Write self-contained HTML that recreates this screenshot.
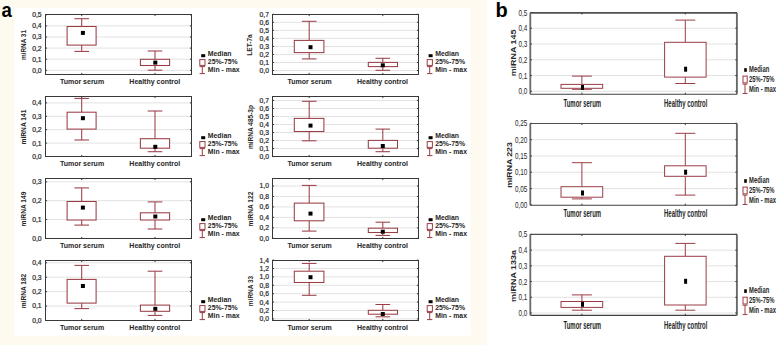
<!DOCTYPE html>
<html><head><meta charset="utf-8"><style>
html,body{margin:0;padding:0;background:#fff;}
body{width:778px;height:345px;overflow:hidden;}
svg{display:block;font-family:"Liberation Sans", sans-serif;position:absolute;left:0;top:0;}
#w{position:relative;width:778px;height:345px;overflow:hidden;font-family:"Liberation Sans", sans-serif;}
.yl{position:absolute;white-space:nowrap;font-weight:bold;line-height:1;color:#262626;}
</style></head><body>
<div id="w">
<svg width="778" height="345" viewBox="0 0 778 345">
<rect x="0" y="0" width="487" height="345" fill="#fefaf0"/>
<rect x="14.4" y="8" width="456.2" height="327.6" fill="#fff"/>
<rect x="487" y="0" width="291" height="345" fill="#fff"/>
<text x="0" y="0" transform="translate(1.6 16.7) scale(0.93 1)" font-size="20" font-weight="bold" fill="#000">a</text>
<text x="495.6" y="16.5" font-size="20" font-weight="bold" fill="#000">b</text>
<line x1="45.5" y1="70.30" x2="191.5" y2="70.30" stroke="#e2e2e2" stroke-width="1"/>
<line x1="45.5" y1="59.20" x2="191.5" y2="59.20" stroke="#e2e2e2" stroke-width="1"/>
<line x1="45.5" y1="48.10" x2="191.5" y2="48.10" stroke="#e2e2e2" stroke-width="1"/>
<line x1="45.5" y1="37.00" x2="191.5" y2="37.00" stroke="#e2e2e2" stroke-width="1"/>
<line x1="45.5" y1="25.90" x2="191.5" y2="25.90" stroke="#e2e2e2" stroke-width="1"/>
<rect x="45.5" y="14.5" width="146.0" height="60.0" fill="none" stroke="#383838" stroke-width="1"/>
<line x1="45.5" y1="70.30" x2="47.1" y2="70.30" stroke="#383838" stroke-width="1"/>
<line x1="189.9" y1="70.30" x2="191.5" y2="70.30" stroke="#383838" stroke-width="1"/>
<line x1="45.5" y1="59.20" x2="47.1" y2="59.20" stroke="#383838" stroke-width="1"/>
<line x1="189.9" y1="59.20" x2="191.5" y2="59.20" stroke="#383838" stroke-width="1"/>
<line x1="45.5" y1="48.10" x2="47.1" y2="48.10" stroke="#383838" stroke-width="1"/>
<line x1="189.9" y1="48.10" x2="191.5" y2="48.10" stroke="#383838" stroke-width="1"/>
<line x1="45.5" y1="37.00" x2="47.1" y2="37.00" stroke="#383838" stroke-width="1"/>
<line x1="189.9" y1="37.00" x2="191.5" y2="37.00" stroke="#383838" stroke-width="1"/>
<line x1="45.5" y1="25.90" x2="47.1" y2="25.90" stroke="#383838" stroke-width="1"/>
<line x1="189.9" y1="25.90" x2="191.5" y2="25.90" stroke="#383838" stroke-width="1"/>
<line x1="45.5" y1="14.80" x2="47.1" y2="14.80" stroke="#383838" stroke-width="1"/>
<line x1="189.9" y1="14.80" x2="191.5" y2="14.80" stroke="#383838" stroke-width="1"/>
<line x1="81.7" y1="14.5" x2="81.7" y2="16.1" stroke="#383838" stroke-width="1"/>
<line x1="81.7" y1="72.9" x2="81.7" y2="74.5" stroke="#383838" stroke-width="1"/>
<line x1="155.0" y1="14.5" x2="155.0" y2="16.1" stroke="#383838" stroke-width="1"/>
<line x1="155.0" y1="72.9" x2="155.0" y2="74.5" stroke="#383838" stroke-width="1"/>
<text x="0" y="0" transform="translate(41.6 72.70) scale(1 1)" text-anchor="end" font-size="6.8" fill="#262626" stroke="#262626" stroke-width="0.2">0,0</text>
<text x="0" y="0" transform="translate(41.6 61.60) scale(1 1)" text-anchor="end" font-size="6.8" fill="#262626" stroke="#262626" stroke-width="0.2">0,1</text>
<text x="0" y="0" transform="translate(41.6 50.50) scale(1 1)" text-anchor="end" font-size="6.8" fill="#262626" stroke="#262626" stroke-width="0.2">0,2</text>
<text x="0" y="0" transform="translate(41.6 39.40) scale(1 1)" text-anchor="end" font-size="6.8" fill="#262626" stroke="#262626" stroke-width="0.2">0,3</text>
<text x="0" y="0" transform="translate(41.6 28.30) scale(1 1)" text-anchor="end" font-size="6.8" fill="#262626" stroke="#262626" stroke-width="0.2">0,4</text>
<text x="0" y="0" transform="translate(41.6 17.20) scale(1 1)" text-anchor="end" font-size="6.8" fill="#262626" stroke="#262626" stroke-width="0.2">0,5</text>
<line x1="81.7" y1="18.7" x2="81.7" y2="26.5" stroke="#9a3d46" stroke-width="1.05"/>
<line x1="81.7" y1="45.1" x2="81.7" y2="51.4" stroke="#9a3d46" stroke-width="1.05"/>
<line x1="74.4" y1="18.7" x2="89.0" y2="18.7" stroke="#9a3d46" stroke-width="1.05"/>
<line x1="74.4" y1="51.4" x2="89.0" y2="51.4" stroke="#9a3d46" stroke-width="1.05"/>
<rect x="67.1" y="26.5" width="29.0" height="18.6" fill="#fff" stroke="#9a3d46" stroke-width="1.05"/>
<rect x="80.90" y="30.90" width="4" height="4" fill="#000"/>
<line x1="155.0" y1="51.0" x2="155.0" y2="59.3" stroke="#9a3d46" stroke-width="1.05"/>
<line x1="155.0" y1="65.5" x2="155.0" y2="70.2" stroke="#9a3d46" stroke-width="1.05"/>
<line x1="147.7" y1="51.0" x2="162.3" y2="51.0" stroke="#9a3d46" stroke-width="1.05"/>
<line x1="147.7" y1="70.2" x2="162.3" y2="70.2" stroke="#9a3d46" stroke-width="1.05"/>
<rect x="140.4" y="59.3" width="29.19999999999999" height="6.200000000000003" fill="#fff" stroke="#9a3d46" stroke-width="1.05"/>
<rect x="153.30" y="60.60" width="4" height="4" fill="#000"/>
<text x="0" y="0" transform="translate(82.0 83.7) scale(1 1)" text-anchor="middle" font-size="7" font-weight="bold" fill="#262626">Tumor serum</text>
<text x="0" y="0" transform="translate(154.8 83.7) scale(1 1)" text-anchor="middle" font-size="7" font-weight="bold" fill="#262626">Healthy control</text>
<rect x="201.20" y="54.20" width="4" height="3" fill="#000"/>
<rect x="199.8" y="59.60" width="5.2" height="5.8" fill="#fff" stroke="#9a3d46" stroke-width="1"/>
<line x1="202.3" y1="66.60" x2="202.3" y2="73.60" stroke="#9a3d46" stroke-width="1"/>
<line x1="199.60000000000002" y1="66.60" x2="205.0" y2="66.60" stroke="#9a3d46" stroke-width="1"/>
<line x1="199.60000000000002" y1="73.60" x2="205.0" y2="73.60" stroke="#9a3d46" stroke-width="1"/>
<text x="0" y="0" transform="translate(207.8 56.00) scale(1 1)" font-size="6.9" font-weight="bold" fill="#262626">Median</text>
<text x="0" y="0" transform="translate(207.8 64.00) scale(1 1)" font-size="6.9" font-weight="bold" fill="#262626">25%-75%</text>
<text x="0" y="0" transform="translate(207.8 72.00) scale(1 1)" font-size="6.9" font-weight="bold" fill="#262626">Min - max</text>
<line x1="272.5" y1="70.50" x2="418.5" y2="70.50" stroke="#e2e2e2" stroke-width="1"/>
<line x1="272.5" y1="62.47" x2="418.5" y2="62.47" stroke="#e2e2e2" stroke-width="1"/>
<line x1="272.5" y1="54.44" x2="418.5" y2="54.44" stroke="#e2e2e2" stroke-width="1"/>
<line x1="272.5" y1="46.41" x2="418.5" y2="46.41" stroke="#e2e2e2" stroke-width="1"/>
<line x1="272.5" y1="38.38" x2="418.5" y2="38.38" stroke="#e2e2e2" stroke-width="1"/>
<line x1="272.5" y1="30.35" x2="418.5" y2="30.35" stroke="#e2e2e2" stroke-width="1"/>
<line x1="272.5" y1="22.32" x2="418.5" y2="22.32" stroke="#e2e2e2" stroke-width="1"/>
<rect x="272.5" y="14.5" width="146.0" height="60.0" fill="none" stroke="#383838" stroke-width="1"/>
<line x1="272.5" y1="70.50" x2="274.1" y2="70.50" stroke="#383838" stroke-width="1"/>
<line x1="416.9" y1="70.50" x2="418.5" y2="70.50" stroke="#383838" stroke-width="1"/>
<line x1="272.5" y1="62.47" x2="274.1" y2="62.47" stroke="#383838" stroke-width="1"/>
<line x1="416.9" y1="62.47" x2="418.5" y2="62.47" stroke="#383838" stroke-width="1"/>
<line x1="272.5" y1="54.44" x2="274.1" y2="54.44" stroke="#383838" stroke-width="1"/>
<line x1="416.9" y1="54.44" x2="418.5" y2="54.44" stroke="#383838" stroke-width="1"/>
<line x1="272.5" y1="46.41" x2="274.1" y2="46.41" stroke="#383838" stroke-width="1"/>
<line x1="416.9" y1="46.41" x2="418.5" y2="46.41" stroke="#383838" stroke-width="1"/>
<line x1="272.5" y1="38.38" x2="274.1" y2="38.38" stroke="#383838" stroke-width="1"/>
<line x1="416.9" y1="38.38" x2="418.5" y2="38.38" stroke="#383838" stroke-width="1"/>
<line x1="272.5" y1="30.35" x2="274.1" y2="30.35" stroke="#383838" stroke-width="1"/>
<line x1="416.9" y1="30.35" x2="418.5" y2="30.35" stroke="#383838" stroke-width="1"/>
<line x1="272.5" y1="22.32" x2="274.1" y2="22.32" stroke="#383838" stroke-width="1"/>
<line x1="416.9" y1="22.32" x2="418.5" y2="22.32" stroke="#383838" stroke-width="1"/>
<line x1="272.5" y1="14.29" x2="274.1" y2="14.29" stroke="#383838" stroke-width="1"/>
<line x1="416.9" y1="14.29" x2="418.5" y2="14.29" stroke="#383838" stroke-width="1"/>
<line x1="309.2" y1="14.5" x2="309.2" y2="16.1" stroke="#383838" stroke-width="1"/>
<line x1="309.2" y1="72.9" x2="309.2" y2="74.5" stroke="#383838" stroke-width="1"/>
<line x1="382.8" y1="14.5" x2="382.8" y2="16.1" stroke="#383838" stroke-width="1"/>
<line x1="382.8" y1="72.9" x2="382.8" y2="74.5" stroke="#383838" stroke-width="1"/>
<text x="0" y="0" transform="translate(269.0 72.90) scale(1 1)" text-anchor="end" font-size="6.8" fill="#262626" stroke="#262626" stroke-width="0.2">0,0</text>
<text x="0" y="0" transform="translate(269.0 64.87) scale(1 1)" text-anchor="end" font-size="6.8" fill="#262626" stroke="#262626" stroke-width="0.2">0,1</text>
<text x="0" y="0" transform="translate(269.0 56.84) scale(1 1)" text-anchor="end" font-size="6.8" fill="#262626" stroke="#262626" stroke-width="0.2">0,2</text>
<text x="0" y="0" transform="translate(269.0 48.81) scale(1 1)" text-anchor="end" font-size="6.8" fill="#262626" stroke="#262626" stroke-width="0.2">0,3</text>
<text x="0" y="0" transform="translate(269.0 40.78) scale(1 1)" text-anchor="end" font-size="6.8" fill="#262626" stroke="#262626" stroke-width="0.2">0,4</text>
<text x="0" y="0" transform="translate(269.0 32.75) scale(1 1)" text-anchor="end" font-size="6.8" fill="#262626" stroke="#262626" stroke-width="0.2">0,5</text>
<text x="0" y="0" transform="translate(269.0 24.72) scale(1 1)" text-anchor="end" font-size="6.8" fill="#262626" stroke="#262626" stroke-width="0.2">0,6</text>
<text x="0" y="0" transform="translate(269.0 16.69) scale(1 1)" text-anchor="end" font-size="6.8" fill="#262626" stroke="#262626" stroke-width="0.2">0,7</text>
<line x1="309.2" y1="21.3" x2="309.2" y2="40.4" stroke="#9a3d46" stroke-width="1.05"/>
<line x1="309.2" y1="52.6" x2="309.2" y2="58.9" stroke="#9a3d46" stroke-width="1.05"/>
<line x1="301.9" y1="21.3" x2="316.5" y2="21.3" stroke="#9a3d46" stroke-width="1.05"/>
<line x1="301.9" y1="58.9" x2="316.5" y2="58.9" stroke="#9a3d46" stroke-width="1.05"/>
<rect x="294.3" y="40.4" width="29.599999999999966" height="12.200000000000003" fill="#fff" stroke="#9a3d46" stroke-width="1.05"/>
<rect x="308.50" y="45.20" width="4" height="4" fill="#000"/>
<line x1="382.8" y1="58.3" x2="382.8" y2="62.4" stroke="#9a3d46" stroke-width="1.05"/>
<line x1="382.8" y1="66.6" x2="382.8" y2="70.3" stroke="#9a3d46" stroke-width="1.05"/>
<line x1="375.5" y1="58.3" x2="390.1" y2="58.3" stroke="#9a3d46" stroke-width="1.05"/>
<line x1="375.5" y1="70.3" x2="390.1" y2="70.3" stroke="#9a3d46" stroke-width="1.05"/>
<rect x="368.3" y="62.4" width="29.19999999999999" height="4.199999999999996" fill="#fff" stroke="#9a3d46" stroke-width="1.05"/>
<rect x="380.80" y="63.30" width="4" height="4" fill="#000"/>
<text x="0" y="0" transform="translate(309.7 83.7) scale(1 1)" text-anchor="middle" font-size="7" font-weight="bold" fill="#262626">Tumor serum</text>
<text x="0" y="0" transform="translate(382.4 83.7) scale(1 1)" text-anchor="middle" font-size="7" font-weight="bold" fill="#262626">Healthy control</text>
<rect x="428.60" y="54.20" width="4" height="3" fill="#000"/>
<rect x="427.2" y="59.60" width="5.2" height="5.8" fill="#fff" stroke="#9a3d46" stroke-width="1"/>
<line x1="429.7" y1="66.60" x2="429.7" y2="73.60" stroke="#9a3d46" stroke-width="1"/>
<line x1="427.0" y1="66.60" x2="432.4" y2="66.60" stroke="#9a3d46" stroke-width="1"/>
<line x1="427.0" y1="73.60" x2="432.4" y2="73.60" stroke="#9a3d46" stroke-width="1"/>
<text x="0" y="0" transform="translate(435.2 56.00) scale(1 1)" font-size="6.9" font-weight="bold" fill="#262626">Median</text>
<text x="0" y="0" transform="translate(435.2 64.00) scale(1 1)" font-size="6.9" font-weight="bold" fill="#262626">25%-75%</text>
<text x="0" y="0" transform="translate(435.2 72.00) scale(1 1)" font-size="6.9" font-weight="bold" fill="#262626">Min - max</text>
<line x1="45.5" y1="143.10" x2="191.5" y2="143.10" stroke="#e2e2e2" stroke-width="1"/>
<line x1="45.5" y1="129.70" x2="191.5" y2="129.70" stroke="#e2e2e2" stroke-width="1"/>
<line x1="45.5" y1="116.30" x2="191.5" y2="116.30" stroke="#e2e2e2" stroke-width="1"/>
<line x1="45.5" y1="102.90" x2="191.5" y2="102.90" stroke="#e2e2e2" stroke-width="1"/>
<rect x="45.5" y="96.5" width="146.0" height="60.0" fill="none" stroke="#383838" stroke-width="1"/>
<line x1="45.5" y1="156.50" x2="47.1" y2="156.50" stroke="#383838" stroke-width="1"/>
<line x1="189.9" y1="156.50" x2="191.5" y2="156.50" stroke="#383838" stroke-width="1"/>
<line x1="45.5" y1="143.10" x2="47.1" y2="143.10" stroke="#383838" stroke-width="1"/>
<line x1="189.9" y1="143.10" x2="191.5" y2="143.10" stroke="#383838" stroke-width="1"/>
<line x1="45.5" y1="129.70" x2="47.1" y2="129.70" stroke="#383838" stroke-width="1"/>
<line x1="189.9" y1="129.70" x2="191.5" y2="129.70" stroke="#383838" stroke-width="1"/>
<line x1="45.5" y1="116.30" x2="47.1" y2="116.30" stroke="#383838" stroke-width="1"/>
<line x1="189.9" y1="116.30" x2="191.5" y2="116.30" stroke="#383838" stroke-width="1"/>
<line x1="45.5" y1="102.90" x2="47.1" y2="102.90" stroke="#383838" stroke-width="1"/>
<line x1="189.9" y1="102.90" x2="191.5" y2="102.90" stroke="#383838" stroke-width="1"/>
<line x1="81.7" y1="96.5" x2="81.7" y2="98.1" stroke="#383838" stroke-width="1"/>
<line x1="81.7" y1="154.9" x2="81.7" y2="156.5" stroke="#383838" stroke-width="1"/>
<line x1="155.0" y1="96.5" x2="155.0" y2="98.1" stroke="#383838" stroke-width="1"/>
<line x1="155.0" y1="154.9" x2="155.0" y2="156.5" stroke="#383838" stroke-width="1"/>
<text x="0" y="0" transform="translate(41.6 158.90) scale(1 1)" text-anchor="end" font-size="6.8" fill="#262626" stroke="#262626" stroke-width="0.2">0,0</text>
<text x="0" y="0" transform="translate(41.6 145.50) scale(1 1)" text-anchor="end" font-size="6.8" fill="#262626" stroke="#262626" stroke-width="0.2">0,1</text>
<text x="0" y="0" transform="translate(41.6 132.10) scale(1 1)" text-anchor="end" font-size="6.8" fill="#262626" stroke="#262626" stroke-width="0.2">0,2</text>
<text x="0" y="0" transform="translate(41.6 118.70) scale(1 1)" text-anchor="end" font-size="6.8" fill="#262626" stroke="#262626" stroke-width="0.2">0,3</text>
<text x="0" y="0" transform="translate(41.6 105.30) scale(1 1)" text-anchor="end" font-size="6.8" fill="#262626" stroke="#262626" stroke-width="0.2">0,4</text>
<line x1="81.7" y1="98.4" x2="81.7" y2="112.2" stroke="#9a3d46" stroke-width="1.05"/>
<line x1="81.7" y1="129.1" x2="81.7" y2="140.0" stroke="#9a3d46" stroke-width="1.05"/>
<line x1="74.4" y1="98.4" x2="89.0" y2="98.4" stroke="#9a3d46" stroke-width="1.05"/>
<line x1="74.4" y1="140.0" x2="89.0" y2="140.0" stroke="#9a3d46" stroke-width="1.05"/>
<rect x="67.1" y="112.2" width="29.0" height="16.89999999999999" fill="#fff" stroke="#9a3d46" stroke-width="1.05"/>
<rect x="80.90" y="116.20" width="4" height="4" fill="#000"/>
<line x1="155.0" y1="111.0" x2="155.0" y2="138.7" stroke="#9a3d46" stroke-width="1.05"/>
<line x1="155.0" y1="148.2" x2="155.0" y2="151.7" stroke="#9a3d46" stroke-width="1.05"/>
<line x1="147.7" y1="111.0" x2="162.3" y2="111.0" stroke="#9a3d46" stroke-width="1.05"/>
<line x1="147.7" y1="151.7" x2="162.3" y2="151.7" stroke="#9a3d46" stroke-width="1.05"/>
<rect x="140.4" y="138.7" width="29.19999999999999" height="9.5" fill="#fff" stroke="#9a3d46" stroke-width="1.05"/>
<rect x="153.30" y="144.80" width="4" height="4" fill="#000"/>
<text x="0" y="0" transform="translate(82.0 165.7) scale(1 1)" text-anchor="middle" font-size="7" font-weight="bold" fill="#262626">Tumor serum</text>
<text x="0" y="0" transform="translate(154.8 165.7) scale(1 1)" text-anchor="middle" font-size="7" font-weight="bold" fill="#262626">Healthy control</text>
<rect x="201.20" y="136.20" width="4" height="3" fill="#000"/>
<rect x="199.8" y="141.60" width="5.2" height="5.8" fill="#fff" stroke="#9a3d46" stroke-width="1"/>
<line x1="202.3" y1="148.60" x2="202.3" y2="155.60" stroke="#9a3d46" stroke-width="1"/>
<line x1="199.60000000000002" y1="148.60" x2="205.0" y2="148.60" stroke="#9a3d46" stroke-width="1"/>
<line x1="199.60000000000002" y1="155.60" x2="205.0" y2="155.60" stroke="#9a3d46" stroke-width="1"/>
<text x="0" y="0" transform="translate(207.8 138.00) scale(1 1)" font-size="6.9" font-weight="bold" fill="#262626">Median</text>
<text x="0" y="0" transform="translate(207.8 146.00) scale(1 1)" font-size="6.9" font-weight="bold" fill="#262626">25%-75%</text>
<text x="0" y="0" transform="translate(207.8 154.00) scale(1 1)" font-size="6.9" font-weight="bold" fill="#262626">Min - max</text>
<line x1="272.5" y1="148.58" x2="418.5" y2="148.58" stroke="#e2e2e2" stroke-width="1"/>
<line x1="272.5" y1="140.56" x2="418.5" y2="140.56" stroke="#e2e2e2" stroke-width="1"/>
<line x1="272.5" y1="132.54" x2="418.5" y2="132.54" stroke="#e2e2e2" stroke-width="1"/>
<line x1="272.5" y1="124.52" x2="418.5" y2="124.52" stroke="#e2e2e2" stroke-width="1"/>
<line x1="272.5" y1="116.50" x2="418.5" y2="116.50" stroke="#e2e2e2" stroke-width="1"/>
<line x1="272.5" y1="108.48" x2="418.5" y2="108.48" stroke="#e2e2e2" stroke-width="1"/>
<line x1="272.5" y1="100.46" x2="418.5" y2="100.46" stroke="#e2e2e2" stroke-width="1"/>
<rect x="272.5" y="96.5" width="146.0" height="60.0" fill="none" stroke="#383838" stroke-width="1"/>
<line x1="272.5" y1="156.60" x2="274.1" y2="156.60" stroke="#383838" stroke-width="1"/>
<line x1="416.9" y1="156.60" x2="418.5" y2="156.60" stroke="#383838" stroke-width="1"/>
<line x1="272.5" y1="148.58" x2="274.1" y2="148.58" stroke="#383838" stroke-width="1"/>
<line x1="416.9" y1="148.58" x2="418.5" y2="148.58" stroke="#383838" stroke-width="1"/>
<line x1="272.5" y1="140.56" x2="274.1" y2="140.56" stroke="#383838" stroke-width="1"/>
<line x1="416.9" y1="140.56" x2="418.5" y2="140.56" stroke="#383838" stroke-width="1"/>
<line x1="272.5" y1="132.54" x2="274.1" y2="132.54" stroke="#383838" stroke-width="1"/>
<line x1="416.9" y1="132.54" x2="418.5" y2="132.54" stroke="#383838" stroke-width="1"/>
<line x1="272.5" y1="124.52" x2="274.1" y2="124.52" stroke="#383838" stroke-width="1"/>
<line x1="416.9" y1="124.52" x2="418.5" y2="124.52" stroke="#383838" stroke-width="1"/>
<line x1="272.5" y1="116.50" x2="274.1" y2="116.50" stroke="#383838" stroke-width="1"/>
<line x1="416.9" y1="116.50" x2="418.5" y2="116.50" stroke="#383838" stroke-width="1"/>
<line x1="272.5" y1="108.48" x2="274.1" y2="108.48" stroke="#383838" stroke-width="1"/>
<line x1="416.9" y1="108.48" x2="418.5" y2="108.48" stroke="#383838" stroke-width="1"/>
<line x1="272.5" y1="100.46" x2="274.1" y2="100.46" stroke="#383838" stroke-width="1"/>
<line x1="416.9" y1="100.46" x2="418.5" y2="100.46" stroke="#383838" stroke-width="1"/>
<line x1="309.2" y1="96.5" x2="309.2" y2="98.1" stroke="#383838" stroke-width="1"/>
<line x1="309.2" y1="154.9" x2="309.2" y2="156.5" stroke="#383838" stroke-width="1"/>
<line x1="382.8" y1="96.5" x2="382.8" y2="98.1" stroke="#383838" stroke-width="1"/>
<line x1="382.8" y1="154.9" x2="382.8" y2="156.5" stroke="#383838" stroke-width="1"/>
<text x="0" y="0" transform="translate(269.0 159.00) scale(1 1)" text-anchor="end" font-size="6.8" fill="#262626" stroke="#262626" stroke-width="0.2">0,0</text>
<text x="0" y="0" transform="translate(269.0 150.98) scale(1 1)" text-anchor="end" font-size="6.8" fill="#262626" stroke="#262626" stroke-width="0.2">0,1</text>
<text x="0" y="0" transform="translate(269.0 142.96) scale(1 1)" text-anchor="end" font-size="6.8" fill="#262626" stroke="#262626" stroke-width="0.2">0,2</text>
<text x="0" y="0" transform="translate(269.0 134.94) scale(1 1)" text-anchor="end" font-size="6.8" fill="#262626" stroke="#262626" stroke-width="0.2">0,3</text>
<text x="0" y="0" transform="translate(269.0 126.92) scale(1 1)" text-anchor="end" font-size="6.8" fill="#262626" stroke="#262626" stroke-width="0.2">0,4</text>
<text x="0" y="0" transform="translate(269.0 118.90) scale(1 1)" text-anchor="end" font-size="6.8" fill="#262626" stroke="#262626" stroke-width="0.2">0,5</text>
<text x="0" y="0" transform="translate(269.0 110.88) scale(1 1)" text-anchor="end" font-size="6.8" fill="#262626" stroke="#262626" stroke-width="0.2">0,6</text>
<text x="0" y="0" transform="translate(269.0 102.86) scale(1 1)" text-anchor="end" font-size="6.8" fill="#262626" stroke="#262626" stroke-width="0.2">0,7</text>
<line x1="309.2" y1="101.3" x2="309.2" y2="118.4" stroke="#9a3d46" stroke-width="1.05"/>
<line x1="309.2" y1="131.5" x2="309.2" y2="140.8" stroke="#9a3d46" stroke-width="1.05"/>
<line x1="301.9" y1="101.3" x2="316.5" y2="101.3" stroke="#9a3d46" stroke-width="1.05"/>
<line x1="301.9" y1="140.8" x2="316.5" y2="140.8" stroke="#9a3d46" stroke-width="1.05"/>
<rect x="294.3" y="118.4" width="29.599999999999966" height="13.099999999999994" fill="#fff" stroke="#9a3d46" stroke-width="1.05"/>
<rect x="308.50" y="123.60" width="4" height="4" fill="#000"/>
<line x1="382.8" y1="129.1" x2="382.8" y2="140.4" stroke="#9a3d46" stroke-width="1.05"/>
<line x1="382.8" y1="148.2" x2="382.8" y2="151.7" stroke="#9a3d46" stroke-width="1.05"/>
<line x1="375.5" y1="129.1" x2="390.1" y2="129.1" stroke="#9a3d46" stroke-width="1.05"/>
<line x1="375.5" y1="151.7" x2="390.1" y2="151.7" stroke="#9a3d46" stroke-width="1.05"/>
<rect x="368.3" y="140.4" width="29.19999999999999" height="7.799999999999983" fill="#fff" stroke="#9a3d46" stroke-width="1.05"/>
<rect x="380.80" y="144.00" width="4" height="4" fill="#000"/>
<text x="0" y="0" transform="translate(309.7 165.7) scale(1 1)" text-anchor="middle" font-size="7" font-weight="bold" fill="#262626">Tumor serum</text>
<text x="0" y="0" transform="translate(382.4 165.7) scale(1 1)" text-anchor="middle" font-size="7" font-weight="bold" fill="#262626">Healthy control</text>
<rect x="428.60" y="136.20" width="4" height="3" fill="#000"/>
<rect x="427.2" y="141.60" width="5.2" height="5.8" fill="#fff" stroke="#9a3d46" stroke-width="1"/>
<line x1="429.7" y1="148.60" x2="429.7" y2="155.60" stroke="#9a3d46" stroke-width="1"/>
<line x1="427.0" y1="148.60" x2="432.4" y2="148.60" stroke="#9a3d46" stroke-width="1"/>
<line x1="427.0" y1="155.60" x2="432.4" y2="155.60" stroke="#9a3d46" stroke-width="1"/>
<text x="0" y="0" transform="translate(435.2 138.00) scale(1 1)" font-size="6.9" font-weight="bold" fill="#262626">Median</text>
<text x="0" y="0" transform="translate(435.2 146.00) scale(1 1)" font-size="6.9" font-weight="bold" fill="#262626">25%-75%</text>
<text x="0" y="0" transform="translate(435.2 154.00) scale(1 1)" font-size="6.9" font-weight="bold" fill="#262626">Min - max</text>
<line x1="45.5" y1="219.55" x2="191.5" y2="219.55" stroke="#e2e2e2" stroke-width="1"/>
<line x1="45.5" y1="200.70" x2="191.5" y2="200.70" stroke="#e2e2e2" stroke-width="1"/>
<line x1="45.5" y1="181.85" x2="191.5" y2="181.85" stroke="#e2e2e2" stroke-width="1"/>
<rect x="45.5" y="178.5" width="146.0" height="60.0" fill="none" stroke="#383838" stroke-width="1"/>
<line x1="45.5" y1="238.40" x2="47.1" y2="238.40" stroke="#383838" stroke-width="1"/>
<line x1="189.9" y1="238.40" x2="191.5" y2="238.40" stroke="#383838" stroke-width="1"/>
<line x1="45.5" y1="219.55" x2="47.1" y2="219.55" stroke="#383838" stroke-width="1"/>
<line x1="189.9" y1="219.55" x2="191.5" y2="219.55" stroke="#383838" stroke-width="1"/>
<line x1="45.5" y1="200.70" x2="47.1" y2="200.70" stroke="#383838" stroke-width="1"/>
<line x1="189.9" y1="200.70" x2="191.5" y2="200.70" stroke="#383838" stroke-width="1"/>
<line x1="45.5" y1="181.85" x2="47.1" y2="181.85" stroke="#383838" stroke-width="1"/>
<line x1="189.9" y1="181.85" x2="191.5" y2="181.85" stroke="#383838" stroke-width="1"/>
<line x1="81.7" y1="178.5" x2="81.7" y2="180.1" stroke="#383838" stroke-width="1"/>
<line x1="81.7" y1="236.9" x2="81.7" y2="238.5" stroke="#383838" stroke-width="1"/>
<line x1="155.0" y1="178.5" x2="155.0" y2="180.1" stroke="#383838" stroke-width="1"/>
<line x1="155.0" y1="236.9" x2="155.0" y2="238.5" stroke="#383838" stroke-width="1"/>
<text x="0" y="0" transform="translate(41.6 240.80) scale(1 1)" text-anchor="end" font-size="6.8" fill="#262626" stroke="#262626" stroke-width="0.2">0,0</text>
<text x="0" y="0" transform="translate(41.6 221.95) scale(1 1)" text-anchor="end" font-size="6.8" fill="#262626" stroke="#262626" stroke-width="0.2">0,1</text>
<text x="0" y="0" transform="translate(41.6 203.10) scale(1 1)" text-anchor="end" font-size="6.8" fill="#262626" stroke="#262626" stroke-width="0.2">0,2</text>
<text x="0" y="0" transform="translate(41.6 184.25) scale(1 1)" text-anchor="end" font-size="6.8" fill="#262626" stroke="#262626" stroke-width="0.2">0,3</text>
<line x1="81.7" y1="187.9" x2="81.7" y2="201.5" stroke="#9a3d46" stroke-width="1.05"/>
<line x1="81.7" y1="220.0" x2="81.7" y2="225.1" stroke="#9a3d46" stroke-width="1.05"/>
<line x1="74.4" y1="187.9" x2="89.0" y2="187.9" stroke="#9a3d46" stroke-width="1.05"/>
<line x1="74.4" y1="225.1" x2="89.0" y2="225.1" stroke="#9a3d46" stroke-width="1.05"/>
<rect x="67.1" y="201.5" width="29.0" height="18.5" fill="#fff" stroke="#9a3d46" stroke-width="1.05"/>
<rect x="80.90" y="205.60" width="4" height="4" fill="#000"/>
<line x1="155.0" y1="201.9" x2="155.0" y2="212.8" stroke="#9a3d46" stroke-width="1.05"/>
<line x1="155.0" y1="220.0" x2="155.0" y2="229.0" stroke="#9a3d46" stroke-width="1.05"/>
<line x1="147.7" y1="201.9" x2="162.3" y2="201.9" stroke="#9a3d46" stroke-width="1.05"/>
<line x1="147.7" y1="229.0" x2="162.3" y2="229.0" stroke="#9a3d46" stroke-width="1.05"/>
<rect x="140.4" y="212.8" width="29.19999999999999" height="7.199999999999989" fill="#fff" stroke="#9a3d46" stroke-width="1.05"/>
<rect x="153.30" y="214.50" width="4" height="4" fill="#000"/>
<text x="0" y="0" transform="translate(82.0 247.7) scale(1 1)" text-anchor="middle" font-size="7" font-weight="bold" fill="#262626">Tumor serum</text>
<text x="0" y="0" transform="translate(154.8 247.7) scale(1 1)" text-anchor="middle" font-size="7" font-weight="bold" fill="#262626">Healthy control</text>
<rect x="201.20" y="218.20" width="4" height="3" fill="#000"/>
<rect x="199.8" y="223.60" width="5.2" height="5.8" fill="#fff" stroke="#9a3d46" stroke-width="1"/>
<line x1="202.3" y1="230.60" x2="202.3" y2="237.60" stroke="#9a3d46" stroke-width="1"/>
<line x1="199.60000000000002" y1="230.60" x2="205.0" y2="230.60" stroke="#9a3d46" stroke-width="1"/>
<line x1="199.60000000000002" y1="237.60" x2="205.0" y2="237.60" stroke="#9a3d46" stroke-width="1"/>
<text x="0" y="0" transform="translate(207.8 220.00) scale(1 1)" font-size="6.9" font-weight="bold" fill="#262626">Median</text>
<text x="0" y="0" transform="translate(207.8 228.00) scale(1 1)" font-size="6.9" font-weight="bold" fill="#262626">25%-75%</text>
<text x="0" y="0" transform="translate(207.8 236.00) scale(1 1)" font-size="6.9" font-weight="bold" fill="#262626">Min - max</text>
<line x1="272.5" y1="227.84" x2="418.5" y2="227.84" stroke="#e2e2e2" stroke-width="1"/>
<line x1="272.5" y1="217.38" x2="418.5" y2="217.38" stroke="#e2e2e2" stroke-width="1"/>
<line x1="272.5" y1="206.92" x2="418.5" y2="206.92" stroke="#e2e2e2" stroke-width="1"/>
<line x1="272.5" y1="196.46" x2="418.5" y2="196.46" stroke="#e2e2e2" stroke-width="1"/>
<line x1="272.5" y1="186.00" x2="418.5" y2="186.00" stroke="#e2e2e2" stroke-width="1"/>
<rect x="272.5" y="178.5" width="146.0" height="60.0" fill="none" stroke="#383838" stroke-width="1"/>
<line x1="272.5" y1="238.30" x2="274.1" y2="238.30" stroke="#383838" stroke-width="1"/>
<line x1="416.9" y1="238.30" x2="418.5" y2="238.30" stroke="#383838" stroke-width="1"/>
<line x1="272.5" y1="227.84" x2="274.1" y2="227.84" stroke="#383838" stroke-width="1"/>
<line x1="416.9" y1="227.84" x2="418.5" y2="227.84" stroke="#383838" stroke-width="1"/>
<line x1="272.5" y1="217.38" x2="274.1" y2="217.38" stroke="#383838" stroke-width="1"/>
<line x1="416.9" y1="217.38" x2="418.5" y2="217.38" stroke="#383838" stroke-width="1"/>
<line x1="272.5" y1="206.92" x2="274.1" y2="206.92" stroke="#383838" stroke-width="1"/>
<line x1="416.9" y1="206.92" x2="418.5" y2="206.92" stroke="#383838" stroke-width="1"/>
<line x1="272.5" y1="196.46" x2="274.1" y2="196.46" stroke="#383838" stroke-width="1"/>
<line x1="416.9" y1="196.46" x2="418.5" y2="196.46" stroke="#383838" stroke-width="1"/>
<line x1="272.5" y1="186.00" x2="274.1" y2="186.00" stroke="#383838" stroke-width="1"/>
<line x1="416.9" y1="186.00" x2="418.5" y2="186.00" stroke="#383838" stroke-width="1"/>
<line x1="309.2" y1="178.5" x2="309.2" y2="180.1" stroke="#383838" stroke-width="1"/>
<line x1="309.2" y1="236.9" x2="309.2" y2="238.5" stroke="#383838" stroke-width="1"/>
<line x1="382.8" y1="178.5" x2="382.8" y2="180.1" stroke="#383838" stroke-width="1"/>
<line x1="382.8" y1="236.9" x2="382.8" y2="238.5" stroke="#383838" stroke-width="1"/>
<text x="0" y="0" transform="translate(269.0 240.70) scale(1 1)" text-anchor="end" font-size="6.8" fill="#262626" stroke="#262626" stroke-width="0.2">0,0</text>
<text x="0" y="0" transform="translate(269.0 230.24) scale(1 1)" text-anchor="end" font-size="6.8" fill="#262626" stroke="#262626" stroke-width="0.2">0,2</text>
<text x="0" y="0" transform="translate(269.0 219.78) scale(1 1)" text-anchor="end" font-size="6.8" fill="#262626" stroke="#262626" stroke-width="0.2">0,4</text>
<text x="0" y="0" transform="translate(269.0 209.32) scale(1 1)" text-anchor="end" font-size="6.8" fill="#262626" stroke="#262626" stroke-width="0.2">0,6</text>
<text x="0" y="0" transform="translate(269.0 198.86) scale(1 1)" text-anchor="end" font-size="6.8" fill="#262626" stroke="#262626" stroke-width="0.2">0,8</text>
<text x="0" y="0" transform="translate(269.0 188.40) scale(1 1)" text-anchor="end" font-size="6.8" fill="#262626" stroke="#262626" stroke-width="0.2">1,0</text>
<line x1="309.2" y1="185.4" x2="309.2" y2="203.1" stroke="#9a3d46" stroke-width="1.05"/>
<line x1="309.2" y1="220.8" x2="309.2" y2="231.1" stroke="#9a3d46" stroke-width="1.05"/>
<line x1="301.9" y1="185.4" x2="316.5" y2="185.4" stroke="#9a3d46" stroke-width="1.05"/>
<line x1="301.9" y1="231.1" x2="316.5" y2="231.1" stroke="#9a3d46" stroke-width="1.05"/>
<rect x="294.3" y="203.1" width="29.599999999999966" height="17.700000000000017" fill="#fff" stroke="#9a3d46" stroke-width="1.05"/>
<rect x="308.50" y="211.60" width="4" height="4" fill="#000"/>
<line x1="382.8" y1="222.2" x2="382.8" y2="228.2" stroke="#9a3d46" stroke-width="1.05"/>
<line x1="382.8" y1="232.5" x2="382.8" y2="235.4" stroke="#9a3d46" stroke-width="1.05"/>
<line x1="375.5" y1="222.2" x2="390.1" y2="222.2" stroke="#9a3d46" stroke-width="1.05"/>
<line x1="375.5" y1="235.4" x2="390.1" y2="235.4" stroke="#9a3d46" stroke-width="1.05"/>
<rect x="368.3" y="228.2" width="29.19999999999999" height="4.300000000000011" fill="#fff" stroke="#9a3d46" stroke-width="1.05"/>
<rect x="380.80" y="229.70" width="4" height="4" fill="#000"/>
<text x="0" y="0" transform="translate(309.7 247.7) scale(1 1)" text-anchor="middle" font-size="7" font-weight="bold" fill="#262626">Tumor serum</text>
<text x="0" y="0" transform="translate(382.4 247.7) scale(1 1)" text-anchor="middle" font-size="7" font-weight="bold" fill="#262626">Healthy control</text>
<rect x="428.60" y="218.20" width="4" height="3" fill="#000"/>
<rect x="427.2" y="223.60" width="5.2" height="5.8" fill="#fff" stroke="#9a3d46" stroke-width="1"/>
<line x1="429.7" y1="230.60" x2="429.7" y2="237.60" stroke="#9a3d46" stroke-width="1"/>
<line x1="427.0" y1="230.60" x2="432.4" y2="230.60" stroke="#9a3d46" stroke-width="1"/>
<line x1="427.0" y1="237.60" x2="432.4" y2="237.60" stroke="#9a3d46" stroke-width="1"/>
<text x="0" y="0" transform="translate(435.2 220.00) scale(1 1)" font-size="6.9" font-weight="bold" fill="#262626">Median</text>
<text x="0" y="0" transform="translate(435.2 228.00) scale(1 1)" font-size="6.9" font-weight="bold" fill="#262626">25%-75%</text>
<text x="0" y="0" transform="translate(435.2 236.00) scale(1 1)" font-size="6.9" font-weight="bold" fill="#262626">Min - max</text>
<line x1="45.5" y1="306.07" x2="191.5" y2="306.07" stroke="#e2e2e2" stroke-width="1"/>
<line x1="45.5" y1="291.64" x2="191.5" y2="291.64" stroke="#e2e2e2" stroke-width="1"/>
<line x1="45.5" y1="277.21" x2="191.5" y2="277.21" stroke="#e2e2e2" stroke-width="1"/>
<line x1="45.5" y1="262.78" x2="191.5" y2="262.78" stroke="#e2e2e2" stroke-width="1"/>
<rect x="45.5" y="260.5" width="146.0" height="60.0" fill="none" stroke="#383838" stroke-width="1"/>
<line x1="45.5" y1="320.50" x2="47.1" y2="320.50" stroke="#383838" stroke-width="1"/>
<line x1="189.9" y1="320.50" x2="191.5" y2="320.50" stroke="#383838" stroke-width="1"/>
<line x1="45.5" y1="306.07" x2="47.1" y2="306.07" stroke="#383838" stroke-width="1"/>
<line x1="189.9" y1="306.07" x2="191.5" y2="306.07" stroke="#383838" stroke-width="1"/>
<line x1="45.5" y1="291.64" x2="47.1" y2="291.64" stroke="#383838" stroke-width="1"/>
<line x1="189.9" y1="291.64" x2="191.5" y2="291.64" stroke="#383838" stroke-width="1"/>
<line x1="45.5" y1="277.21" x2="47.1" y2="277.21" stroke="#383838" stroke-width="1"/>
<line x1="189.9" y1="277.21" x2="191.5" y2="277.21" stroke="#383838" stroke-width="1"/>
<line x1="45.5" y1="262.78" x2="47.1" y2="262.78" stroke="#383838" stroke-width="1"/>
<line x1="189.9" y1="262.78" x2="191.5" y2="262.78" stroke="#383838" stroke-width="1"/>
<line x1="81.7" y1="260.5" x2="81.7" y2="262.1" stroke="#383838" stroke-width="1"/>
<line x1="81.7" y1="318.9" x2="81.7" y2="320.5" stroke="#383838" stroke-width="1"/>
<line x1="155.0" y1="260.5" x2="155.0" y2="262.1" stroke="#383838" stroke-width="1"/>
<line x1="155.0" y1="318.9" x2="155.0" y2="320.5" stroke="#383838" stroke-width="1"/>
<text x="0" y="0" transform="translate(41.6 322.90) scale(1 1)" text-anchor="end" font-size="6.8" fill="#262626" stroke="#262626" stroke-width="0.2">0,0</text>
<text x="0" y="0" transform="translate(41.6 308.47) scale(1 1)" text-anchor="end" font-size="6.8" fill="#262626" stroke="#262626" stroke-width="0.2">0,1</text>
<text x="0" y="0" transform="translate(41.6 294.04) scale(1 1)" text-anchor="end" font-size="6.8" fill="#262626" stroke="#262626" stroke-width="0.2">0,2</text>
<text x="0" y="0" transform="translate(41.6 279.61) scale(1 1)" text-anchor="end" font-size="6.8" fill="#262626" stroke="#262626" stroke-width="0.2">0,3</text>
<text x="0" y="0" transform="translate(41.6 265.18) scale(1 1)" text-anchor="end" font-size="6.8" fill="#262626" stroke="#262626" stroke-width="0.2">0,4</text>
<line x1="81.7" y1="265.4" x2="81.7" y2="279.4" stroke="#9a3d46" stroke-width="1.05"/>
<line x1="81.7" y1="303.1" x2="81.7" y2="308.6" stroke="#9a3d46" stroke-width="1.05"/>
<line x1="74.4" y1="265.4" x2="89.0" y2="265.4" stroke="#9a3d46" stroke-width="1.05"/>
<line x1="74.4" y1="308.6" x2="89.0" y2="308.6" stroke="#9a3d46" stroke-width="1.05"/>
<rect x="67.1" y="279.4" width="29.0" height="23.700000000000045" fill="#fff" stroke="#9a3d46" stroke-width="1.05"/>
<rect x="80.90" y="284.00" width="4" height="4" fill="#000"/>
<line x1="155.0" y1="271.2" x2="155.0" y2="305.1" stroke="#9a3d46" stroke-width="1.05"/>
<line x1="155.0" y1="311.3" x2="155.0" y2="315.4" stroke="#9a3d46" stroke-width="1.05"/>
<line x1="147.7" y1="271.2" x2="162.3" y2="271.2" stroke="#9a3d46" stroke-width="1.05"/>
<line x1="147.7" y1="315.4" x2="162.3" y2="315.4" stroke="#9a3d46" stroke-width="1.05"/>
<rect x="140.4" y="305.1" width="29.19999999999999" height="6.199999999999989" fill="#fff" stroke="#9a3d46" stroke-width="1.05"/>
<rect x="153.30" y="306.80" width="4" height="4" fill="#000"/>
<text x="0" y="0" transform="translate(82.0 329.7) scale(1 1)" text-anchor="middle" font-size="7" font-weight="bold" fill="#262626">Tumor serum</text>
<text x="0" y="0" transform="translate(154.8 329.7) scale(1 1)" text-anchor="middle" font-size="7" font-weight="bold" fill="#262626">Healthy control</text>
<rect x="201.20" y="300.20" width="4" height="3" fill="#000"/>
<rect x="199.8" y="305.60" width="5.2" height="5.8" fill="#fff" stroke="#9a3d46" stroke-width="1"/>
<line x1="202.3" y1="312.60" x2="202.3" y2="319.60" stroke="#9a3d46" stroke-width="1"/>
<line x1="199.60000000000002" y1="312.60" x2="205.0" y2="312.60" stroke="#9a3d46" stroke-width="1"/>
<line x1="199.60000000000002" y1="319.60" x2="205.0" y2="319.60" stroke="#9a3d46" stroke-width="1"/>
<text x="0" y="0" transform="translate(207.8 302.00) scale(1 1)" font-size="6.9" font-weight="bold" fill="#262626">Median</text>
<text x="0" y="0" transform="translate(207.8 310.00) scale(1 1)" font-size="6.9" font-weight="bold" fill="#262626">25%-75%</text>
<text x="0" y="0" transform="translate(207.8 318.00) scale(1 1)" font-size="6.9" font-weight="bold" fill="#262626">Min - max</text>
<line x1="272.5" y1="318.90" x2="418.5" y2="318.90" stroke="#e2e2e2" stroke-width="1"/>
<line x1="272.5" y1="310.50" x2="418.5" y2="310.50" stroke="#e2e2e2" stroke-width="1"/>
<line x1="272.5" y1="302.10" x2="418.5" y2="302.10" stroke="#e2e2e2" stroke-width="1"/>
<line x1="272.5" y1="293.70" x2="418.5" y2="293.70" stroke="#e2e2e2" stroke-width="1"/>
<line x1="272.5" y1="285.30" x2="418.5" y2="285.30" stroke="#e2e2e2" stroke-width="1"/>
<line x1="272.5" y1="276.90" x2="418.5" y2="276.90" stroke="#e2e2e2" stroke-width="1"/>
<line x1="272.5" y1="268.50" x2="418.5" y2="268.50" stroke="#e2e2e2" stroke-width="1"/>
<rect x="272.5" y="260.5" width="146.0" height="60.0" fill="none" stroke="#383838" stroke-width="1"/>
<line x1="272.5" y1="318.90" x2="274.1" y2="318.90" stroke="#383838" stroke-width="1"/>
<line x1="416.9" y1="318.90" x2="418.5" y2="318.90" stroke="#383838" stroke-width="1"/>
<line x1="272.5" y1="310.50" x2="274.1" y2="310.50" stroke="#383838" stroke-width="1"/>
<line x1="416.9" y1="310.50" x2="418.5" y2="310.50" stroke="#383838" stroke-width="1"/>
<line x1="272.5" y1="302.10" x2="274.1" y2="302.10" stroke="#383838" stroke-width="1"/>
<line x1="416.9" y1="302.10" x2="418.5" y2="302.10" stroke="#383838" stroke-width="1"/>
<line x1="272.5" y1="293.70" x2="274.1" y2="293.70" stroke="#383838" stroke-width="1"/>
<line x1="416.9" y1="293.70" x2="418.5" y2="293.70" stroke="#383838" stroke-width="1"/>
<line x1="272.5" y1="285.30" x2="274.1" y2="285.30" stroke="#383838" stroke-width="1"/>
<line x1="416.9" y1="285.30" x2="418.5" y2="285.30" stroke="#383838" stroke-width="1"/>
<line x1="272.5" y1="276.90" x2="274.1" y2="276.90" stroke="#383838" stroke-width="1"/>
<line x1="416.9" y1="276.90" x2="418.5" y2="276.90" stroke="#383838" stroke-width="1"/>
<line x1="272.5" y1="268.50" x2="274.1" y2="268.50" stroke="#383838" stroke-width="1"/>
<line x1="416.9" y1="268.50" x2="418.5" y2="268.50" stroke="#383838" stroke-width="1"/>
<line x1="272.5" y1="260.10" x2="274.1" y2="260.10" stroke="#383838" stroke-width="1"/>
<line x1="416.9" y1="260.10" x2="418.5" y2="260.10" stroke="#383838" stroke-width="1"/>
<line x1="309.2" y1="260.5" x2="309.2" y2="262.1" stroke="#383838" stroke-width="1"/>
<line x1="309.2" y1="318.9" x2="309.2" y2="320.5" stroke="#383838" stroke-width="1"/>
<line x1="382.8" y1="260.5" x2="382.8" y2="262.1" stroke="#383838" stroke-width="1"/>
<line x1="382.8" y1="318.9" x2="382.8" y2="320.5" stroke="#383838" stroke-width="1"/>
<text x="0" y="0" transform="translate(269.0 321.30) scale(1 1)" text-anchor="end" font-size="6.8" fill="#262626" stroke="#262626" stroke-width="0.2">0,0</text>
<text x="0" y="0" transform="translate(269.0 312.90) scale(1 1)" text-anchor="end" font-size="6.8" fill="#262626" stroke="#262626" stroke-width="0.2">0,2</text>
<text x="0" y="0" transform="translate(269.0 304.50) scale(1 1)" text-anchor="end" font-size="6.8" fill="#262626" stroke="#262626" stroke-width="0.2">0,4</text>
<text x="0" y="0" transform="translate(269.0 296.10) scale(1 1)" text-anchor="end" font-size="6.8" fill="#262626" stroke="#262626" stroke-width="0.2">0,6</text>
<text x="0" y="0" transform="translate(269.0 287.70) scale(1 1)" text-anchor="end" font-size="6.8" fill="#262626" stroke="#262626" stroke-width="0.2">0,8</text>
<text x="0" y="0" transform="translate(269.0 279.30) scale(1 1)" text-anchor="end" font-size="6.8" fill="#262626" stroke="#262626" stroke-width="0.2">1,0</text>
<text x="0" y="0" transform="translate(269.0 270.90) scale(1 1)" text-anchor="end" font-size="6.8" fill="#262626" stroke="#262626" stroke-width="0.2">1,2</text>
<text x="0" y="0" transform="translate(269.0 262.50) scale(1 1)" text-anchor="end" font-size="6.8" fill="#262626" stroke="#262626" stroke-width="0.2">1,4</text>
<line x1="309.2" y1="263.4" x2="309.2" y2="271.2" stroke="#9a3d46" stroke-width="1.05"/>
<line x1="309.2" y1="282.5" x2="309.2" y2="295.3" stroke="#9a3d46" stroke-width="1.05"/>
<line x1="301.9" y1="263.4" x2="316.5" y2="263.4" stroke="#9a3d46" stroke-width="1.05"/>
<line x1="301.9" y1="295.3" x2="316.5" y2="295.3" stroke="#9a3d46" stroke-width="1.05"/>
<rect x="294.3" y="271.2" width="29.599999999999966" height="11.300000000000011" fill="#fff" stroke="#9a3d46" stroke-width="1.05"/>
<rect x="308.50" y="275.20" width="4" height="4" fill="#000"/>
<line x1="382.8" y1="304.5" x2="382.8" y2="310.3" stroke="#9a3d46" stroke-width="1.05"/>
<line x1="382.8" y1="314.2" x2="382.8" y2="316.8" stroke="#9a3d46" stroke-width="1.05"/>
<line x1="375.5" y1="304.5" x2="390.1" y2="304.5" stroke="#9a3d46" stroke-width="1.05"/>
<line x1="375.5" y1="316.8" x2="390.1" y2="316.8" stroke="#9a3d46" stroke-width="1.05"/>
<rect x="368.3" y="310.3" width="29.19999999999999" height="3.8999999999999773" fill="#fff" stroke="#9a3d46" stroke-width="1.05"/>
<rect x="380.80" y="312.00" width="4" height="4" fill="#000"/>
<text x="0" y="0" transform="translate(309.7 329.7) scale(1 1)" text-anchor="middle" font-size="7" font-weight="bold" fill="#262626">Tumor serum</text>
<text x="0" y="0" transform="translate(382.4 329.7) scale(1 1)" text-anchor="middle" font-size="7" font-weight="bold" fill="#262626">Healthy control</text>
<rect x="428.60" y="300.20" width="4" height="3" fill="#000"/>
<rect x="427.2" y="305.60" width="5.2" height="5.8" fill="#fff" stroke="#9a3d46" stroke-width="1"/>
<line x1="429.7" y1="312.60" x2="429.7" y2="319.60" stroke="#9a3d46" stroke-width="1"/>
<line x1="427.0" y1="312.60" x2="432.4" y2="312.60" stroke="#9a3d46" stroke-width="1"/>
<line x1="427.0" y1="319.60" x2="432.4" y2="319.60" stroke="#9a3d46" stroke-width="1"/>
<text x="0" y="0" transform="translate(435.2 302.00) scale(1 1)" font-size="6.9" font-weight="bold" fill="#262626">Median</text>
<text x="0" y="0" transform="translate(435.2 310.00) scale(1 1)" font-size="6.9" font-weight="bold" fill="#262626">25%-75%</text>
<text x="0" y="0" transform="translate(435.2 318.00) scale(1 1)" font-size="6.9" font-weight="bold" fill="#262626">Min - max</text>
<line x1="530.3" y1="91.30" x2="736.9" y2="91.30" stroke="#e2e2e2" stroke-width="1"/>
<line x1="530.3" y1="75.54" x2="736.9" y2="75.54" stroke="#e2e2e2" stroke-width="1"/>
<line x1="530.3" y1="59.78" x2="736.9" y2="59.78" stroke="#e2e2e2" stroke-width="1"/>
<line x1="530.3" y1="44.02" x2="736.9" y2="44.02" stroke="#e2e2e2" stroke-width="1"/>
<line x1="530.3" y1="28.26" x2="736.9" y2="28.26" stroke="#e2e2e2" stroke-width="1"/>
<line x1="530.3" y1="12.85" x2="736.9" y2="12.85" stroke="#505050" stroke-width="1.8"/>
<line x1="530.3" y1="94.3" x2="736.9" y2="94.3" stroke="#404040" stroke-width="1.1"/>
<line x1="530.3" y1="12.85" x2="530.3" y2="94.3" stroke="#6a6a6a" stroke-width="1.8"/>
<line x1="736.9" y1="12.85" x2="736.9" y2="94.3" stroke="#6a6a6a" stroke-width="1.9"/>
<line x1="530.3" y1="91.30" x2="531.9" y2="91.30" stroke="#383838" stroke-width="1"/>
<line x1="735.3" y1="91.30" x2="736.9" y2="91.30" stroke="#383838" stroke-width="1"/>
<line x1="530.3" y1="75.54" x2="531.9" y2="75.54" stroke="#383838" stroke-width="1"/>
<line x1="735.3" y1="75.54" x2="736.9" y2="75.54" stroke="#383838" stroke-width="1"/>
<line x1="530.3" y1="59.78" x2="531.9" y2="59.78" stroke="#383838" stroke-width="1"/>
<line x1="735.3" y1="59.78" x2="736.9" y2="59.78" stroke="#383838" stroke-width="1"/>
<line x1="530.3" y1="44.02" x2="531.9" y2="44.02" stroke="#383838" stroke-width="1"/>
<line x1="735.3" y1="44.02" x2="736.9" y2="44.02" stroke="#383838" stroke-width="1"/>
<line x1="530.3" y1="28.26" x2="531.9" y2="28.26" stroke="#383838" stroke-width="1"/>
<line x1="735.3" y1="28.26" x2="736.9" y2="28.26" stroke="#383838" stroke-width="1"/>
<line x1="530.3" y1="12.50" x2="531.9" y2="12.50" stroke="#383838" stroke-width="1"/>
<line x1="735.3" y1="12.50" x2="736.9" y2="12.50" stroke="#383838" stroke-width="1"/>
<line x1="581.9" y1="12.85" x2="581.9" y2="14.45" stroke="#383838" stroke-width="1"/>
<line x1="581.9" y1="92.7" x2="581.9" y2="94.3" stroke="#383838" stroke-width="1"/>
<line x1="685.3" y1="12.85" x2="685.3" y2="14.45" stroke="#383838" stroke-width="1"/>
<line x1="685.3" y1="92.7" x2="685.3" y2="94.3" stroke="#383838" stroke-width="1"/>
<text x="0" y="0" transform="translate(527.4 94.30) scale(0.74 1)" text-anchor="end" font-size="8.6" fill="#262626" stroke="#262626" stroke-width="0">0,0</text>
<text x="0" y="0" transform="translate(527.4 78.54) scale(0.74 1)" text-anchor="end" font-size="8.6" fill="#262626" stroke="#262626" stroke-width="0">0,1</text>
<text x="0" y="0" transform="translate(527.4 62.78) scale(0.74 1)" text-anchor="end" font-size="8.6" fill="#262626" stroke="#262626" stroke-width="0">0,2</text>
<text x="0" y="0" transform="translate(527.4 47.02) scale(0.74 1)" text-anchor="end" font-size="8.6" fill="#262626" stroke="#262626" stroke-width="0">0,3</text>
<text x="0" y="0" transform="translate(527.4 31.26) scale(0.74 1)" text-anchor="end" font-size="8.6" fill="#262626" stroke="#262626" stroke-width="0">0,4</text>
<text x="0" y="0" transform="translate(527.4 15.50) scale(0.74 1)" text-anchor="end" font-size="8.6" fill="#262626" stroke="#262626" stroke-width="0">0,5</text>
<line x1="581.9" y1="76.1" x2="581.9" y2="84.4" stroke="#9a3d46" stroke-width="1.0"/>
<line x1="581.9" y1="88.3" x2="581.9" y2="89.3" stroke="#9a3d46" stroke-width="1.0"/>
<line x1="571.9" y1="76.1" x2="591.9" y2="76.1" stroke="#9a3d46" stroke-width="1.0"/>
<line x1="571.9" y1="89.3" x2="591.9" y2="89.3" stroke="#9a3d46" stroke-width="1.0"/>
<rect x="561.0" y="84.4" width="41.700000000000045" height="3.8999999999999915" fill="#fff" stroke="#9a3d46" stroke-width="1.0"/>
<rect x="581.00" y="85.00" width="3" height="5" fill="#000"/>
<line x1="685.3" y1="20.1" x2="685.3" y2="42.3" stroke="#9a3d46" stroke-width="1.0"/>
<line x1="685.3" y1="77.1" x2="685.3" y2="83.5" stroke="#9a3d46" stroke-width="1.0"/>
<line x1="675.3" y1="20.1" x2="695.3" y2="20.1" stroke="#9a3d46" stroke-width="1.0"/>
<line x1="675.3" y1="83.5" x2="695.3" y2="83.5" stroke="#9a3d46" stroke-width="1.0"/>
<rect x="664.6" y="42.3" width="41.5" height="34.8" fill="#fff" stroke="#9a3d46" stroke-width="1.0"/>
<rect x="684.10" y="66.70" width="3" height="5" fill="#000"/>
<text x="0" y="0" transform="translate(582.3 106.8) scale(0.595 1)" text-anchor="middle" font-size="10" font-weight="bold" fill="#262626">Tumor serum</text>
<text x="0" y="0" transform="translate(685.7 106.8) scale(0.595 1)" text-anchor="middle" font-size="10" font-weight="bold" fill="#262626">Healthy control</text>
<rect x="744.20" y="68.20" width="2.6" height="3.6" fill="#000"/>
<rect x="743.0" y="76.10" width="4.2" height="6.8" fill="#fff" stroke="#9a3d46" stroke-width="1"/>
<line x1="745.0" y1="84.10" x2="745.0" y2="93.50" stroke="#9a3d46" stroke-width="1"/>
<line x1="742.6" y1="84.10" x2="747.4" y2="84.10" stroke="#9a3d46" stroke-width="1"/>
<line x1="742.6" y1="93.50" x2="747.4" y2="93.50" stroke="#9a3d46" stroke-width="1"/>
<text x="0" y="0" transform="translate(749.1 71.50) scale(0.65 1)" font-size="9" font-weight="bold" fill="#262626">Median</text>
<text x="0" y="0" transform="translate(749.1 81.70) scale(0.65 1)" font-size="9" font-weight="bold" fill="#262626">25%-75%</text>
<text x="0" y="0" transform="translate(749.1 91.90) scale(0.65 1)" font-size="9" font-weight="bold" fill="#262626">Min - max</text>
<line x1="530.3" y1="188.58" x2="736.9" y2="188.58" stroke="#e2e2e2" stroke-width="1"/>
<line x1="530.3" y1="172.26" x2="736.9" y2="172.26" stroke="#e2e2e2" stroke-width="1"/>
<line x1="530.3" y1="155.94" x2="736.9" y2="155.94" stroke="#e2e2e2" stroke-width="1"/>
<line x1="530.3" y1="139.62" x2="736.9" y2="139.62" stroke="#e2e2e2" stroke-width="1"/>
<line x1="530.3" y1="123.5" x2="736.9" y2="123.5" stroke="#505050" stroke-width="1.1"/>
<line x1="530.3" y1="205.3" x2="736.9" y2="205.3" stroke="#404040" stroke-width="1.1"/>
<line x1="530.3" y1="123.5" x2="530.3" y2="205.3" stroke="#6a6a6a" stroke-width="1.8"/>
<line x1="736.9" y1="123.5" x2="736.9" y2="205.3" stroke="#6a6a6a" stroke-width="1.9"/>
<line x1="530.3" y1="204.90" x2="531.9" y2="204.90" stroke="#383838" stroke-width="1"/>
<line x1="735.3" y1="204.90" x2="736.9" y2="204.90" stroke="#383838" stroke-width="1"/>
<line x1="530.3" y1="188.58" x2="531.9" y2="188.58" stroke="#383838" stroke-width="1"/>
<line x1="735.3" y1="188.58" x2="736.9" y2="188.58" stroke="#383838" stroke-width="1"/>
<line x1="530.3" y1="172.26" x2="531.9" y2="172.26" stroke="#383838" stroke-width="1"/>
<line x1="735.3" y1="172.26" x2="736.9" y2="172.26" stroke="#383838" stroke-width="1"/>
<line x1="530.3" y1="155.94" x2="531.9" y2="155.94" stroke="#383838" stroke-width="1"/>
<line x1="735.3" y1="155.94" x2="736.9" y2="155.94" stroke="#383838" stroke-width="1"/>
<line x1="530.3" y1="139.62" x2="531.9" y2="139.62" stroke="#383838" stroke-width="1"/>
<line x1="735.3" y1="139.62" x2="736.9" y2="139.62" stroke="#383838" stroke-width="1"/>
<line x1="530.3" y1="123.30" x2="531.9" y2="123.30" stroke="#383838" stroke-width="1"/>
<line x1="735.3" y1="123.30" x2="736.9" y2="123.30" stroke="#383838" stroke-width="1"/>
<line x1="581.9" y1="123.5" x2="581.9" y2="125.1" stroke="#383838" stroke-width="1"/>
<line x1="581.9" y1="203.70000000000002" x2="581.9" y2="205.3" stroke="#383838" stroke-width="1"/>
<line x1="685.3" y1="123.5" x2="685.3" y2="125.1" stroke="#383838" stroke-width="1"/>
<line x1="685.3" y1="203.70000000000002" x2="685.3" y2="205.3" stroke="#383838" stroke-width="1"/>
<text x="0" y="0" transform="translate(527.4 207.90) scale(0.74 1)" text-anchor="end" font-size="8.6" fill="#262626" stroke="#262626" stroke-width="0">0,00</text>
<text x="0" y="0" transform="translate(527.4 191.58) scale(0.74 1)" text-anchor="end" font-size="8.6" fill="#262626" stroke="#262626" stroke-width="0">0,05</text>
<text x="0" y="0" transform="translate(527.4 175.26) scale(0.74 1)" text-anchor="end" font-size="8.6" fill="#262626" stroke="#262626" stroke-width="0">0,10</text>
<text x="0" y="0" transform="translate(527.4 158.94) scale(0.74 1)" text-anchor="end" font-size="8.6" fill="#262626" stroke="#262626" stroke-width="0">0,15</text>
<text x="0" y="0" transform="translate(527.4 142.62) scale(0.74 1)" text-anchor="end" font-size="8.6" fill="#262626" stroke="#262626" stroke-width="0">0,20</text>
<text x="0" y="0" transform="translate(527.4 126.30) scale(0.74 1)" text-anchor="end" font-size="8.6" fill="#262626" stroke="#262626" stroke-width="0">0,25</text>
<line x1="581.9" y1="162.7" x2="581.9" y2="186.7" stroke="#9a3d46" stroke-width="1.0"/>
<line x1="581.9" y1="197.2" x2="581.9" y2="198.9" stroke="#9a3d46" stroke-width="1.0"/>
<line x1="571.9" y1="162.7" x2="591.9" y2="162.7" stroke="#9a3d46" stroke-width="1.0"/>
<line x1="571.9" y1="198.9" x2="591.9" y2="198.9" stroke="#9a3d46" stroke-width="1.0"/>
<rect x="561.0" y="186.7" width="41.700000000000045" height="10.5" fill="#fff" stroke="#9a3d46" stroke-width="1.0"/>
<rect x="581.00" y="190.50" width="3" height="5" fill="#000"/>
<line x1="685.3" y1="133.3" x2="685.3" y2="165.8" stroke="#9a3d46" stroke-width="1.0"/>
<line x1="685.3" y1="176.3" x2="685.3" y2="195.1" stroke="#9a3d46" stroke-width="1.0"/>
<line x1="675.3" y1="133.3" x2="695.3" y2="133.3" stroke="#9a3d46" stroke-width="1.0"/>
<line x1="675.3" y1="195.1" x2="695.3" y2="195.1" stroke="#9a3d46" stroke-width="1.0"/>
<rect x="664.6" y="165.8" width="41.5" height="10.5" fill="#fff" stroke="#9a3d46" stroke-width="1.0"/>
<rect x="684.10" y="169.70" width="3" height="5" fill="#000"/>
<text x="0" y="0" transform="translate(582.3 217.3) scale(0.595 1)" text-anchor="middle" font-size="10" font-weight="bold" fill="#262626">Tumor serum</text>
<text x="0" y="0" transform="translate(685.7 217.3) scale(0.595 1)" text-anchor="middle" font-size="10" font-weight="bold" fill="#262626">Healthy control</text>
<rect x="744.20" y="179.20" width="2.6" height="3.6" fill="#000"/>
<rect x="743.0" y="187.10" width="4.2" height="6.8" fill="#fff" stroke="#9a3d46" stroke-width="1"/>
<line x1="745.0" y1="195.10" x2="745.0" y2="204.50" stroke="#9a3d46" stroke-width="1"/>
<line x1="742.6" y1="195.10" x2="747.4" y2="195.10" stroke="#9a3d46" stroke-width="1"/>
<line x1="742.6" y1="204.50" x2="747.4" y2="204.50" stroke="#9a3d46" stroke-width="1"/>
<text x="0" y="0" transform="translate(749.1 182.50) scale(0.65 1)" font-size="9" font-weight="bold" fill="#262626">Median</text>
<text x="0" y="0" transform="translate(749.1 192.70) scale(0.65 1)" font-size="9" font-weight="bold" fill="#262626">25%-75%</text>
<text x="0" y="0" transform="translate(749.1 202.90) scale(0.65 1)" font-size="9" font-weight="bold" fill="#262626">Min - max</text>
<line x1="530.3" y1="313.00" x2="736.9" y2="313.00" stroke="#e2e2e2" stroke-width="1"/>
<line x1="530.3" y1="297.28" x2="736.9" y2="297.28" stroke="#e2e2e2" stroke-width="1"/>
<line x1="530.3" y1="281.56" x2="736.9" y2="281.56" stroke="#e2e2e2" stroke-width="1"/>
<line x1="530.3" y1="265.84" x2="736.9" y2="265.84" stroke="#e2e2e2" stroke-width="1"/>
<line x1="530.3" y1="250.12" x2="736.9" y2="250.12" stroke="#e2e2e2" stroke-width="1"/>
<line x1="530.3" y1="234.4" x2="736.9" y2="234.4" stroke="#505050" stroke-width="1.2"/>
<line x1="530.3" y1="315.4" x2="736.9" y2="315.4" stroke="#404040" stroke-width="1.3"/>
<line x1="530.3" y1="234.4" x2="530.3" y2="315.4" stroke="#6a6a6a" stroke-width="1.8"/>
<line x1="736.9" y1="234.4" x2="736.9" y2="315.4" stroke="#6a6a6a" stroke-width="1.9"/>
<line x1="530.3" y1="313.00" x2="531.9" y2="313.00" stroke="#383838" stroke-width="1"/>
<line x1="735.3" y1="313.00" x2="736.9" y2="313.00" stroke="#383838" stroke-width="1"/>
<line x1="530.3" y1="297.28" x2="531.9" y2="297.28" stroke="#383838" stroke-width="1"/>
<line x1="735.3" y1="297.28" x2="736.9" y2="297.28" stroke="#383838" stroke-width="1"/>
<line x1="530.3" y1="281.56" x2="531.9" y2="281.56" stroke="#383838" stroke-width="1"/>
<line x1="735.3" y1="281.56" x2="736.9" y2="281.56" stroke="#383838" stroke-width="1"/>
<line x1="530.3" y1="265.84" x2="531.9" y2="265.84" stroke="#383838" stroke-width="1"/>
<line x1="735.3" y1="265.84" x2="736.9" y2="265.84" stroke="#383838" stroke-width="1"/>
<line x1="530.3" y1="250.12" x2="531.9" y2="250.12" stroke="#383838" stroke-width="1"/>
<line x1="735.3" y1="250.12" x2="736.9" y2="250.12" stroke="#383838" stroke-width="1"/>
<line x1="530.3" y1="234.40" x2="531.9" y2="234.40" stroke="#383838" stroke-width="1"/>
<line x1="735.3" y1="234.40" x2="736.9" y2="234.40" stroke="#383838" stroke-width="1"/>
<line x1="581.9" y1="234.4" x2="581.9" y2="236.0" stroke="#383838" stroke-width="1"/>
<line x1="581.9" y1="313.79999999999995" x2="581.9" y2="315.4" stroke="#383838" stroke-width="1"/>
<line x1="685.3" y1="234.4" x2="685.3" y2="236.0" stroke="#383838" stroke-width="1"/>
<line x1="685.3" y1="313.79999999999995" x2="685.3" y2="315.4" stroke="#383838" stroke-width="1"/>
<text x="0" y="0" transform="translate(527.4 316.00) scale(0.74 1)" text-anchor="end" font-size="8.6" fill="#262626" stroke="#262626" stroke-width="0">0,0</text>
<text x="0" y="0" transform="translate(527.4 300.28) scale(0.74 1)" text-anchor="end" font-size="8.6" fill="#262626" stroke="#262626" stroke-width="0">0,1</text>
<text x="0" y="0" transform="translate(527.4 284.56) scale(0.74 1)" text-anchor="end" font-size="8.6" fill="#262626" stroke="#262626" stroke-width="0">0,2</text>
<text x="0" y="0" transform="translate(527.4 268.84) scale(0.74 1)" text-anchor="end" font-size="8.6" fill="#262626" stroke="#262626" stroke-width="0">0,3</text>
<text x="0" y="0" transform="translate(527.4 253.12) scale(0.74 1)" text-anchor="end" font-size="8.6" fill="#262626" stroke="#262626" stroke-width="0">0,4</text>
<text x="0" y="0" transform="translate(527.4 237.40) scale(0.74 1)" text-anchor="end" font-size="8.6" fill="#262626" stroke="#262626" stroke-width="0">0,5</text>
<line x1="581.9" y1="294.9" x2="581.9" y2="301.5" stroke="#9a3d46" stroke-width="1.0"/>
<line x1="581.9" y1="307.4" x2="581.9" y2="310.2" stroke="#9a3d46" stroke-width="1.0"/>
<line x1="571.9" y1="294.9" x2="591.9" y2="294.9" stroke="#9a3d46" stroke-width="1.0"/>
<line x1="571.9" y1="310.2" x2="591.9" y2="310.2" stroke="#9a3d46" stroke-width="1.0"/>
<rect x="561.0" y="301.5" width="41.700000000000045" height="5.899999999999977" fill="#fff" stroke="#9a3d46" stroke-width="1.0"/>
<rect x="581.00" y="301.80" width="3" height="5" fill="#000"/>
<line x1="685.3" y1="243.4" x2="685.3" y2="256.3" stroke="#9a3d46" stroke-width="1.0"/>
<line x1="685.3" y1="305.0" x2="685.3" y2="310.2" stroke="#9a3d46" stroke-width="1.0"/>
<line x1="675.3" y1="243.4" x2="695.3" y2="243.4" stroke="#9a3d46" stroke-width="1.0"/>
<line x1="675.3" y1="310.2" x2="695.3" y2="310.2" stroke="#9a3d46" stroke-width="1.0"/>
<rect x="664.6" y="256.3" width="41.5" height="48.69999999999999" fill="#fff" stroke="#9a3d46" stroke-width="1.0"/>
<rect x="684.10" y="278.80" width="3" height="5" fill="#000"/>
<text x="0" y="0" transform="translate(582.3 328.8) scale(0.595 1)" text-anchor="middle" font-size="10" font-weight="bold" fill="#262626">Tumor serum</text>
<text x="0" y="0" transform="translate(685.7 328.8) scale(0.595 1)" text-anchor="middle" font-size="10" font-weight="bold" fill="#262626">Healthy control</text>
<rect x="744.20" y="289.30" width="2.6" height="3.6" fill="#000"/>
<rect x="743.0" y="297.20" width="4.2" height="6.8" fill="#fff" stroke="#9a3d46" stroke-width="1"/>
<line x1="745.0" y1="305.20" x2="745.0" y2="314.60" stroke="#9a3d46" stroke-width="1"/>
<line x1="742.6" y1="305.20" x2="747.4" y2="305.20" stroke="#9a3d46" stroke-width="1"/>
<line x1="742.6" y1="314.60" x2="747.4" y2="314.60" stroke="#9a3d46" stroke-width="1"/>
<text x="0" y="0" transform="translate(749.1 292.60) scale(0.65 1)" font-size="9" font-weight="bold" fill="#262626">Median</text>
<text x="0" y="0" transform="translate(749.1 302.80) scale(0.65 1)" font-size="9" font-weight="bold" fill="#262626">25%-75%</text>
<text x="0" y="0" transform="translate(749.1 313.00) scale(0.65 1)" font-size="9" font-weight="bold" fill="#262626">Min - max</text>
</svg>
<div class="yl" style="left:23.92px;top:44.50px;font-size:6.6px;transform:translate(-50%,-50%) rotate(-90deg) scale(0.970,1)">miRNA 31</div>
<div class="yl" style="left:250.42px;top:45.00px;font-size:6.9px;transform:translate(-50%,-50%) rotate(-90deg) scale(0.946,1)">LET-7a</div>
<div class="yl" style="left:23.92px;top:126.50px;font-size:6.6px;transform:translate(-50%,-50%) rotate(-90deg) scale(1.012,1)">miRNA 141</div>
<div class="yl" style="left:250.52px;top:126.50px;font-size:6.6px;transform:translate(-50%,-50%) rotate(-90deg) scale(0.989,1)">miRNA 485-3p</div>
<div class="yl" style="left:23.92px;top:208.50px;font-size:6.6px;transform:translate(-50%,-50%) rotate(-90deg) scale(1.006,1)">miRNA 149</div>
<div class="yl" style="left:250.52px;top:208.50px;font-size:6.6px;transform:translate(-50%,-50%) rotate(-90deg) scale(1.006,1)">miRNA 122</div>
<div class="yl" style="left:23.92px;top:290.50px;font-size:6.6px;transform:translate(-50%,-50%) rotate(-90deg) scale(0.994,1)">miRNA 182</div>
<div class="yl" style="left:250.52px;top:290.50px;font-size:6.6px;transform:translate(-50%,-50%) rotate(-90deg) scale(0.980,1)">miRNA 33</div>
<div class="yl" style="left:514.03px;top:53.45px;font-size:8.8px;transform:translate(-50%,-50%) rotate(-90deg) scale(1.012,0.78)">miRNA 145</div>
<div class="yl" style="left:509.63px;top:165.00px;font-size:8.8px;transform:translate(-50%,-50%) rotate(-90deg) scale(0.988,0.78)">miRNA 223</div>
<div class="yl" style="left:513.73px;top:276.00px;font-size:8.8px;transform:translate(-50%,-50%) rotate(-90deg) scale(1.015,0.78)">miRNA 133a</div>
</div>
</body></html>
